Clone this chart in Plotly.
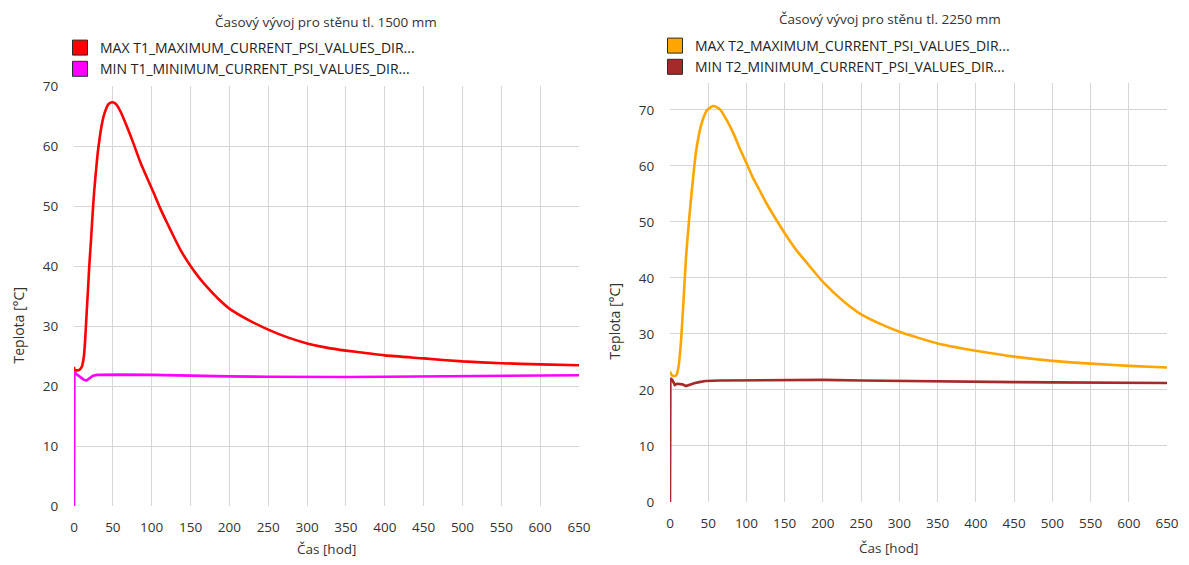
import plotly.graph_objects as go

# ---------------- data ----------------
t_max1 = [0, 1, 3, 7, 10, 12.8, 14.5, 16.2, 18, 19.6, 22, 24, 26, 28.4, 30.5, 32.7, 35, 38, 41, 44.5,
          48.8, 52, 55.3, 60, 68.2, 76, 85.4, 94, 102.5, 111, 119.7, 128, 137, 150, 162, 172, 186, 200,
          226, 250, 275, 300, 325, 350, 375, 400, 450, 500, 550, 600, 650]
v_max1 = [23.2, 22.6, 22.6, 22.7, 23.2, 25.0, 28.0, 32.0, 36.0, 39.9, 44.5, 48.8, 52.5, 56.0, 58.8, 61.0,
          63.0, 64.9, 66.1, 67.0, 67.3, 67.2, 66.8, 65.7, 63.2, 60.6, 57.3, 54.7, 52.2, 49.6, 47.2, 45.0,
          42.7, 40.0, 37.9, 36.4, 34.5, 32.9, 30.9, 29.4, 28.1, 27.1, 26.4, 25.9, 25.5, 25.1, 24.6, 24.1,
          23.8, 23.6, 23.45]

t_min1 = [0, 0.5, 3, 8, 12, 16, 20, 24.4, 30, 40, 60, 100, 150, 200, 250, 300, 350, 400, 450, 500, 550, 600, 650]
v_min1 = [0, 22.4, 22.0, 21.5, 21.1, 20.9, 21.3, 21.7, 21.85, 21.9, 21.9, 21.85, 21.7, 21.6, 21.55, 21.5,
          21.5, 21.55, 21.6, 21.65, 21.7, 21.75, 21.8]

t_max2 = [0, 1.5, 3.8, 8, 11.2, 14.5, 18, 21, 25.3, 29.5, 33.8, 37, 40.2, 44, 48.7, 56.4, 61, 66, 74, 83,
          91, 100, 108, 117, 125, 134, 149, 164.5, 182, 200, 226.5, 250, 275, 300, 325, 350, 375, 400,
          450, 500, 550, 600, 650]
v_max2 = [23.3, 22.8, 22.5, 22.6, 24.2, 28.9, 36.7, 43.8, 50.9, 56.9, 62.3, 65.0, 67.0, 68.7, 70.0, 70.7,
          70.5, 70.0, 68.2, 65.8, 63.2, 60.5, 58.0, 55.7, 53.6, 51.5, 48.2, 45.1, 42.2, 39.3, 35.9, 33.5,
          31.8, 30.4, 29.3, 28.3, 27.6, 27.0, 25.95, 25.2, 24.7, 24.3, 24.0]

t_min2 = [0, 0.5, 3, 6.3, 9, 12.4, 16, 21, 26, 31.6, 38, 46.5, 65, 100, 150, 200, 250, 300, 350, 400,
          450, 500, 550, 600, 650]
v_min2 = [0, 22.1, 21.8, 20.9, 21.1, 21.1, 21.0, 20.7, 20.95, 21.2, 21.4, 21.6, 21.7, 21.75, 21.8, 21.8,
          21.7, 21.6, 21.55, 21.5, 21.4, 21.35, 21.3, 21.25, 21.25]

names1 = ["MAX T1_MAXIMUM_CURRENT_PSI_VALUES_DIR...", "MIN T1_MINIMUM_CURRENT_PSI_VALUES_DIR..."]
names2 = ["MAX T2_MAXIMUM_CURRENT_PSI_VALUES_DIR...", "MIN T2_MINIMUM_CURRENT_PSI_VALUES_DIR..."]
title1 = "Časový vývoj pro stěnu tl. 1500 mm"
title2 = "Časový vývoj pro stěnu tl. 2250 mm"
x_title = "Čas [hod]"
y_title = "Teplota [°C]"

RED, MAGENTA, ORANGE, BROWN = "#FF0000", "#FF00FF", "#FFA500", "#A52A2A"

# ---------------- layout helpers ----------------
# the page body adds an 8px margin on every side; the figure is sized so the
# page does not overflow the window, positions below are in screenshot pixels
OFF = 8
W, H = 1189 - 2 * OFF, 565 - 2 * OFF
def fx(x):
    return (x - OFF) / W
def fy(y):
    return 1 - (y - OFF) / H

FONT = "Open Sans, Noto Sans, DejaVu Sans, sans-serif"
TXT = "#333333"
GRID = "#d6d6d6"

fig = go.Figure()

series = [
    (t_max1, v_max1, RED, "x", "y", "spline"),
    (t_min1, v_min1, MAGENTA, "x", "y", "linear"),
    (t_max2, v_max2, ORANGE, "x2", "y2", "spline"),
    (t_min2, v_min2, BROWN, "x2", "y2", "linear"),
]
for xs, ys, col, xa, ya, shp in series:
    fig.add_trace(go.Scatter(x=xs, y=ys, mode="lines",
                             line=dict(color=col, width=2.6, shape=shp, smoothing=0.6),
                             xaxis=xa, yaxis=ya, showlegend=False, hoverinfo="skip"))

# legend entries (square swatches)
for name, col, leg in [(names1[0], RED, "legend"), (names1[1], MAGENTA, "legend"),
                       (names2[0], ORANGE, "legend2"), (names2[1], BROWN, "legend2")]:
    fig.add_trace(go.Scatter(x=[None], y=[None], mode="markers", name=name, legend=leg,
                             marker=dict(symbol="square", size=15, color=col,
                                         line=dict(color="#2a2a2a", width=1))))

xcommon = dict(range=[0, 650], tick0=0, dtick=50, showgrid=True, gridcolor=GRID, gridwidth=1,
               zeroline=False, showline=False, ticks="outside", ticklen=9,
               tickcolor="rgba(0,0,0,0)", ticklabeloverflow="allow",
               tickfont=dict(size=13.5, color=TXT, family=FONT))
ycommon = dict(tick0=0, dtick=10, showgrid=True, gridcolor=GRID, gridwidth=1,
               zeroline=False, showline=False, ticks="outside", ticklen=12,
               tickcolor="rgba(0,0,0,0)", ticklabeloverflow="allow",
               tickfont=dict(size=13.5, color=TXT, family=FONT))

fig.update_layout(
    width=W, height=H, autosize=False,
    margin=dict(l=0, r=0, t=0, b=0, autoexpand=False),
    paper_bgcolor="white", plot_bgcolor="white",
    font=dict(family=FONT, size=13, color=TXT),
    xaxis=dict(domain=[fx(74), fx(579)], anchor="y", **xcommon),
    yaxis=dict(domain=[fy(506), fy(86)], anchor="x", range=[0, 70], **ycommon),
    xaxis2=dict(domain=[fx(670), fx(1167)], anchor="y2", **xcommon),
    yaxis2=dict(domain=[fy(502), fy(83)], anchor="x2", range=[0, 74.8], **ycommon),
    legend=dict(x=fx(60), y=fy(32), xanchor="left", yanchor="top", bgcolor="rgba(0,0,0,0)",
                font=dict(size=14, color="#222", family=FONT), tracegroupgap=0,
                itemclick=False, itemdoubleclick=False),
    legend2=dict(x=fx(655), y=fy(30), xanchor="left", yanchor="top", bgcolor="rgba(0,0,0,0)",
                 font=dict(size=14, color="#222", family=FONT), tracegroupgap=0,
                 itemclick=False, itemdoubleclick=False),
    showlegend=True,
)

ann = [
    (title1, 326, 22, 0, 13.5),
    (title2, 890, 19, 0, 13.5),
    (x_title, 326, 549, 0, 13.5),
    (x_title, 888, 548, 0, 13.5),
    (y_title, 17.5, 326, -90, 14),
    (y_title, 613.5, 322, -90, 14),
]
for text, x, y, ang, sz in ann:
    fig.add_annotation(text=text, x=fx(x), y=fy(y), xref="paper", yref="paper",
                       xanchor="center", yanchor="middle", showarrow=False, textangle=ang,
                       font=dict(size=sz, color=TXT, family=FONT))

fig.write_html("out.html")
